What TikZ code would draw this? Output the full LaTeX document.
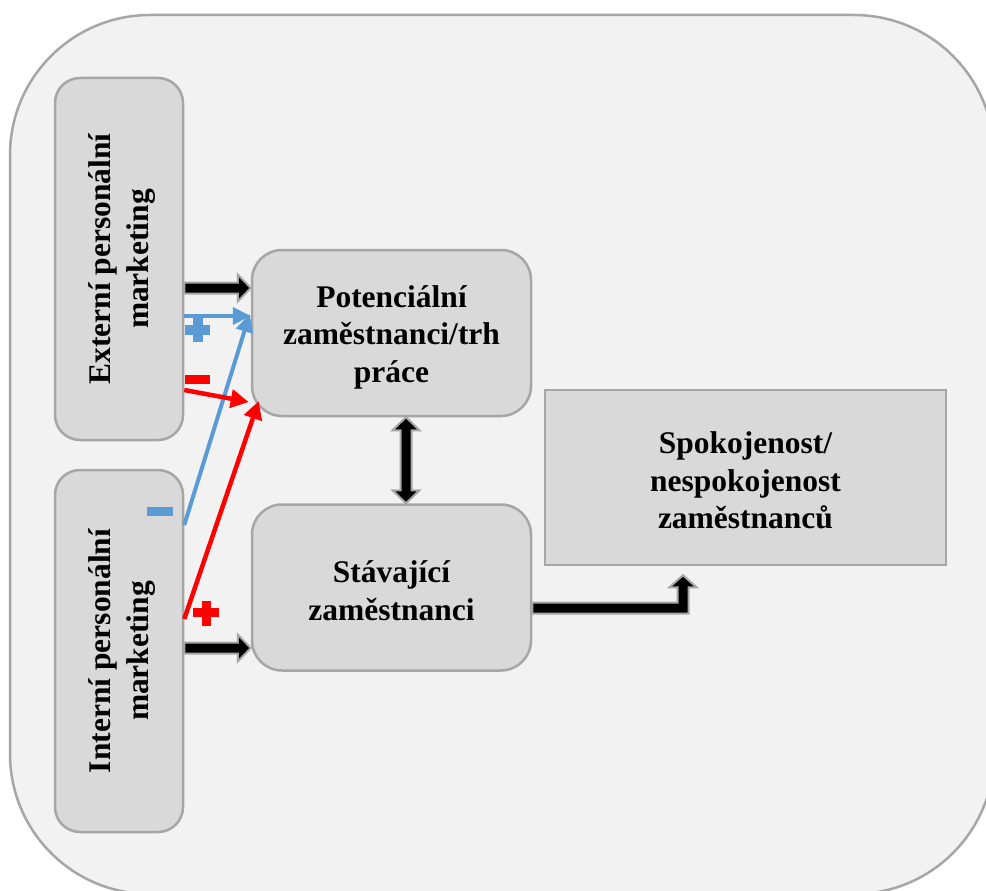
\documentclass[tikz,border=0pt]{standalone}
\usepackage{fontspec}
\setmainfont{Liberation Serif}
\usetikzlibrary{calc,arrows.meta}
\definecolor{bordergray}{HTML}{A6A6A6}
\definecolor{boxfill}{HTML}{D9D9D9}
\definecolor{bgfill}{HTML}{F2F2F2}
\definecolor{mblue}{HTML}{5B9BD5}
\definecolor{mred}{HTML}{FF0000}
% block arrow from #1 to #2 (named coordinates)
\newcommand\blkarrow[2]{%
  \filldraw[blockstyle]
    ($(#1)!5.5pt!90:(#2)$) --
    ($(#2)!13pt!(#1)!5.5pt!-90:(#1)$) --
    ($(#2)!13pt!(#1)!13.5pt!-90:(#1)$) --
    (#2) --
    ($(#2)!13pt!(#1)!13.5pt!90:(#1)$) --
    ($(#2)!13pt!(#1)!5.5pt!90:(#1)$) --
    ($(#1)!5.5pt!-90:(#2)$) -- cycle;}
% double-headed block arrow between #1 and #2
\newcommand\dblarrow[2]{%
  \filldraw[blockstyle]
    (#1) --
    ($(#1)!13pt!(#2)!13.5pt!90:(#2)$) --
    ($(#1)!13pt!(#2)!5.5pt!90:(#2)$) --
    ($(#2)!13pt!(#1)!5.5pt!-90:(#1)$) --
    ($(#2)!13pt!(#1)!13.5pt!-90:(#1)$) --
    (#2) --
    ($(#2)!13pt!(#1)!13.5pt!90:(#1)$) --
    ($(#2)!13pt!(#1)!5.5pt!90:(#1)$) --
    ($(#1)!13pt!(#2)!5.5pt!-90:(#2)$) --
    ($(#1)!13pt!(#2)!13.5pt!-90:(#2)$) -- cycle;}
\begin{document}
\begin{tikzpicture}[x=1pt,y=-1pt,
  outerbox/.style={draw=bordergray, line width=2.5pt, fill=bgfill, rounded corners=140pt},
  sidebox/.style={draw=bordergray, line width=2.5pt, fill=boxfill, rounded corners=25pt,
    minimum width=128pt, minimum height=362pt, inner sep=0pt},
  midbox/.style={draw=bordergray, line width=2.5pt, fill=boxfill, rounded corners=30pt,
    minimum width=279pt, minimum height=166pt, inner sep=0pt},
  rightbox/.style={draw=bordergray, line width=2.5pt, fill=boxfill,
    minimum width=401pt, minimum height=175pt, inner sep=0pt},
  lbl/.style={font=\fontsize{31.5}{37.5}\selectfont\bfseries, align=center, text=black, inner sep=0pt},
  blockstyle/.style={draw=bordergray, fill=black, line width=2pt, line join=miter},
  bluearr/.style={draw=mblue, line width=4pt, -{Triangle[length=18pt,width=17pt]}},
  redarr/.style={draw=mred, line width=4.5pt, -{Triangle[length=18pt,width=18pt]}},
]
\useasboundingbox (0,0) rectangle (986,891);
\clip (0,0) rectangle (986,891);
\fill[white] (0,0) rectangle (986,891);
\draw[outerbox] (10,15) rectangle (994,894);

% boxes
\node[sidebox] (ext) at (119,259) {};
\node[lbl, rotate=90] (extt) at ([xshift=3pt]ext.center) {Externí personální\\marketing};
\node[sidebox] (int) at (119,651) {};
\node[lbl, rotate=90] (intt) at ([xshift=3pt]int.center) {Interní personální\\marketing};
\node[midbox] (pot) at (391.5,333) {};
\node[lbl] (pott) at ([yshift=-4pt]pot.center) {Potenciální\\zaměstnanci/trh\\práce};
\node[midbox] (sta) at (391.5,587.5) {};
\node[lbl] (stat) at ([yshift=-3pt]sta.center) {Stávající\\zaměstnanci};
\node[rightbox] (spok) at (745.5,477.5) {};
\node[lbl] (spokt) at ([yshift=-3pt]spok.center) {Spokojenost/\\nespokojenost\\zaměstnanců};

% black block arrows
\coordinate (a1s) at ([yshift=-29pt]ext.east);
\coordinate (a1e) at (pot.west |- a1s);
\blkarrow{a1s}{a1e}
\coordinate (a2s) at ([yshift=3pt]int.east);
\coordinate (a2e) at (sta.west |- a2s);
\blkarrow{a2s}{a2e}
\coordinate (d1s) at ([xshift=14.5pt]pot.south);
\coordinate (d1e) at (d1s |- sta.north);
\dblarrow{d1s}{d1e}
% elbow arrow
\coordinate (es) at ([yshift=-20.5pt]sta.east);
\coordinate (et) at ([xshift=-62.5pt,yshift=-9pt]spok.south);
\coordinate (ec) at (et |- es);
\filldraw[blockstyle] ($(es)+(0,-5.5)$) -- ($(ec)+(-5.5,-5.5)$) -- ($(et)+(-5.5,12)$)
  -- ($(et)+(-13.5,12)$) -- (et) -- ($(et)+(13.5,12)$) -- ($(et)+(5.5,12)$)
  -- ($(ec)+(5.5,5.5)$) -- ($(es)+(0,5.5)$) -- cycle;

% blue arrows
\coordinate (b1s) at ([yshift=-57pt]ext.east);
\coordinate (b1e) at (pot.west |- b1s);
\draw[bluearr] (b1s) -- (b1e);
\coordinate (b2s) at ([yshift=126pt]int.east);
\coordinate (b2e) at ([xshift=-1pt,yshift=19pt]pot.west);
\draw[bluearr] (b2s) -- (b2e);
% red arrows
\coordinate (r1s) at ([yshift=-131pt]ext.east);
\coordinate (r1e) at ([xshift=-2pt,yshift=-69pt]pot.west);
\draw[redarr] (r1s) -- (r1e);
\coordinate (r2s) at ([yshift=32pt]int.east);
\coordinate (r2e) at ([xshift=8pt,yshift=-68pt]pot.west);
\draw[redarr] (r2s) -- (r2e);

% signs
\fill[mblue] (185,325) rectangle (210,335);
\fill[mblue] (193,315) rectangle (203,342);
\fill[mred] (185,375) rectangle (210,384);
\fill[mblue] (147,507) rectangle (173,516);
\fill[mred] (193,608) rectangle (219,617);
\fill[mred] (202,601) rectangle (211,626);
\end{tikzpicture}
\end{document}
